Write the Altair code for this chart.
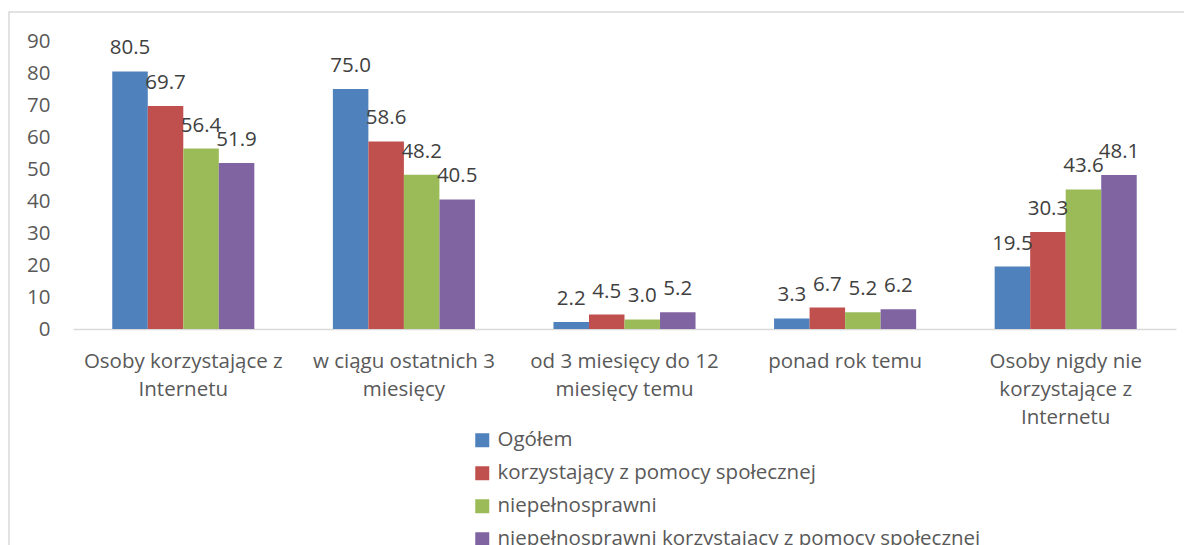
import altair as alt
import pandas as pd

categories = [
    "Osoby korzystające z|Internetu",
    "w ciągu ostatnich 3|miesięcy",
    "od 3 miesięcy do 12|miesięcy temu",
    "ponad rok temu",
    "Osoby nigdy nie|korzystające z|Internetu",
]
series = [
    "Ogółem",
    "korzystający z pomocy społecznej",
    "niepełnosprawni",
    "niepełnosprawni korzystający z pomocy społecznej",
]
colors = ["#4F81BD", "#C0504D", "#9BBB59", "#8064A2"]
ogolem = [80.5, 75.0, 2.2, 3.3, 19.5]
pomoc = [69.7, 58.6, 4.5, 6.7, 30.3]
niepeln = [56.4, 48.2, 3.0, 5.2, 43.6]
niepeln_pomoc = [51.9, 40.5, 5.2, 6.2, 48.1]
y_ticks = [0, 10, 20, 30, 40, 50, 60, 70, 80, 90]

rows = []
for s, vals in zip(series, [ogolem, pomoc, niepeln, niepeln_pomoc]):
    for c, v in zip(categories, vals):
        rows.append({"kategoria": c, "seria": s, "wartosc": v})
df = pd.DataFrame(rows)

W, H = 1103, 288
FONT = "Open Sans"
FS = 20.5

x_enc = alt.X(
    "kategoria:N",
    sort=categories,
    scale=alt.Scale(paddingInner=0.356, paddingOuter=0.178),
    axis=alt.Axis(
        title=None,
        labelAngle=0,
        labelExpr="split(datum.label, '|')",
        labelFontSize=FS,
        labelColor="#595959",
        labelFont=FONT,
        labelPadding=22,
        labelLineHeight=28,
        labelBaseline="top",
        labelOverlap=False,
        labelLimit=400,
        ticks=False,
        domainColor="#D9D9D9",
        domainWidth=1.5,
        grid=False,
    ),
)
xoff = alt.XOffset("seria:N", sort=series, scale=alt.Scale(paddingInner=0, paddingOuter=0))
y_enc = alt.Y(
    "wartosc:Q",
    scale=alt.Scale(domain=[0, 90], nice=False),
    axis=alt.Axis(
        title=None,
        values=y_ticks,
        domain=False,
        ticks=False,
        grid=False,
        labelOverlap=False,
        labelFontSize=FS,
        labelColor="#595959",
        labelFont=FONT,
        labelPadding=23,
    ),
)
color_enc = alt.Color(
    "seria:N",
    sort=series,
    scale=alt.Scale(domain=series, range=colors),
    legend=alt.Legend(
        title=None,
        orient="none",
        legendX=399,
        legendY=389,
        direction="vertical",
        symbolType="square",
        symbolSize=196,
        symbolStrokeWidth=0,
        labelFontSize=FS,
        labelFont=FONT,
        labelColor="#595959",
        labelOffset=5,
        rowPadding=12,
        labelLimit=800,
    ),
)

base = alt.Chart(df)
bars = base.mark_bar(clip=False).encode(x=x_enc, xOffset=xoff, y=y_enc, color=color_enc)
labels = base.mark_text(
    baseline="alphabetic", dy=-17, fontSize=FS, font=FONT, color="#404040"
).encode(
    x=x_enc,
    xOffset=xoff,
    y=y_enc,
    text=alt.Text("wartosc:Q", format=".1f"),
)

border = alt.Chart(pd.DataFrame({"a": [0]})).mark_rect(
    fill=None, stroke="#D9D9D9", strokeWidth=1.5, clip=False
).encode(
    x=alt.value(-64), x2=alt.value(1130), y=alt.value(-29), y2=alt.value(700)
)

chart = (
    alt.layer(border, bars, labels)
    .properties(
        width=W,
        height=H,
        padding={"left": 65, "top": 33, "right": 8, "bottom": 216},
        autosize=alt.AutoSizeParams(type="none"),
        background="white",
    )
    .configure_view(stroke=None)
)

chart.save("out.html", embed_options={"renderer": "svg", "actions": False})
